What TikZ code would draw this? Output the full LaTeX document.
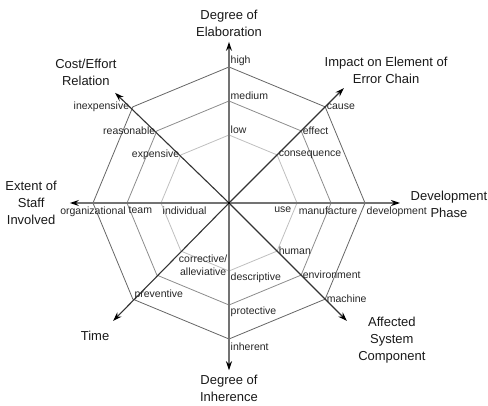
\documentclass[tikz,border=0pt]{standalone}
\usepackage{fontspec}
\setmainfont{Liberation Sans}
\usetikzlibrary{arrows.meta}
\pgfdeclarelayer{nodelayer}
\pgfdeclarelayer{edgelayer}
\pgfsetlayers{edgelayer,nodelayer,main}
\tikzstyle{ring inner}=[draw=black!25, line width=0.8pt]
\tikzstyle{ring middle}=[draw=black!45, line width=0.8pt]
\tikzstyle{ring outer}=[draw=black!60, line width=0.8pt]
\tikzstyle{straight axis}=[-{Stealth[length=9pt, width=6pt, color=black]}, draw=black!55, line width=1.4pt]
\tikzstyle{slant axis}=[-{Stealth[length=9pt, width=6pt, color=black]}, draw=black!80, line width=1.1pt]
\tikzstyle{value}=[inner sep=1.5pt, font=\fontsize{10.5}{13}\selectfont, text=black!85, align=center]
\tikzstyle{dimension}=[inner sep=0pt, font=\fontsize{13}{17}\selectfont, text=black!90, align=center]
\tikzstyle{hub}=[fill=black, inner sep=1.2pt, shape=rectangle]

\begin{document}
\begin{tikzpicture}[x=34pt, y=34pt]
	\useasboundingbox (-229pt, -203pt) rectangle (259pt, 203pt);
	\begin{pgfonlayer}{nodelayer}
		\node [style=hub] (0) at (0, 0) {};
		\coordinate (10) at (0, 2);
		\coordinate (11) at (1.414, 1.414);
		\coordinate (12) at (2, 0);
		\coordinate (13) at (1.414, -1.414);
		\coordinate (14) at (0, -2);
		\coordinate (15) at (-1.414, -1.414);
		\coordinate (16) at (-2, 0);
		\coordinate (17) at (-1.414, 1.414);
		\coordinate (20) at (0, 3);
		\coordinate (21) at (2.121, 2.121);
		\coordinate (22) at (3, 0);
		\coordinate (23) at (2.121, -2.121);
		\coordinate (24) at (0, -3);
		\coordinate (25) at (-2.121, -2.121);
		\coordinate (26) at (-3, 0);
		\coordinate (27) at (-2.121, 2.121);
		\coordinate (30) at (0, 4);
		\coordinate (31) at (2.828, 2.828);
		\coordinate (32) at (4, 0);
		\coordinate (33) at (2.828, -2.828);
		\coordinate (34) at (0, -4);
		\coordinate (35) at (-2.828, -2.828);
		\coordinate (36) at (-4, 0);
		\coordinate (37) at (-2.828, 2.828);
		\coordinate (40) at (0, 4.74);
		\coordinate (41) at (3.38, 3.38);
		\coordinate (42) at (5.03, 0);
		\coordinate (43) at (3.47, -3.47);
		\coordinate (44) at (0, -4.92);
		\coordinate (45) at (-3.41, -3.47);
		\coordinate (46) at (-4.68, 0);
		\coordinate (47) at (-3.35, 3.24);
		\node [style=dimension] (50) at (0, 5.27) {Degree of\\Elaboration};
		\node [style=dimension] (51) at (4.62, 3.91) {Impact on Element of\\Error Chain};
		\node [style=dimension] (52) at (6.47, -0.04) {Development\\Phase};
		\node [style=dimension] (53) at (4.79, -4.03) {Affected\\System\\Component};
		\node [style=dimension] (54) at (0, -5.46) {Degree of\\Inherence};
		\node [style=dimension] (55) at (-3.94, -3.91) {Time};
		\node [style=dimension] (56) at (-5.82, 0) {Extent of\\Staff\\Involved};
		\node [style=dimension] (57) at (-4.21, 3.85) {Cost/Effort\\Relation};
		\node [style=value, anchor=south west] (60) at (10) {low};
		\node [style=value, anchor=south west] (61) at (20) {medium};
		\node [style=value, anchor=south west] (62) at (30) {high};
		\node [style=value, anchor=west] (63) at (11) {consequence};
		\node [style=value, anchor=west] (64) at (21) {effect};
		\node [style=value, anchor=west] (65) at (31) {cause};
		\node [style=value, anchor=north east, xshift=-4pt, yshift=-2pt] (66) at (12) {use};
		\node [style=value, anchor=north, xshift=-3pt, yshift=-2pt] (67) at (22) {manufacture};
		\node [style=value, anchor=north west, yshift=-2pt] (68) at (32) {development};
		\node [style=value, anchor=west] (69) at (13) {human};
		\node [style=value, anchor=west] (70) at (23) {environment};
		\node [style=value, anchor=west] (71) at (33) {machine};
		\node [style=value, anchor=north west] (72) at (14) {descriptive};
		\node [style=value, anchor=north west] (73) at (24) {protective};
		\node [style=value, anchor=north west, yshift=-2pt] (74) at (34) {inherent};
		\node [style=value] (75) at (-0.76, -1.82) {corrective/\\alleviative};
		\node [style=value, anchor=west, yshift=4pt] (76) at (35) {preventive};
		\node [style=value, anchor=north west, yshift=-2pt] (77) at (16) {individual};
		\node [style=value, anchor=north west, yshift=-2pt] (78) at (26) {team};
		\node [style=value, anchor=north, yshift=-2pt] (79) at (36) {organizational};
		\node [style=value, anchor=east] (80) at (17) {expensive};
		\node [style=value, anchor=east] (81) at (27) {reasonable};
		\node [style=value, anchor=east, xshift=-2pt] (82) at (37) {inexpensive};
	\end{pgfonlayer}
	\begin{pgfonlayer}{edgelayer}
		\draw [style=ring inner] (10) -- (11) -- (12) -- (13) -- (14) -- (15) -- (16) -- (17) -- cycle;
		\draw [style=ring middle] (20) -- (21) -- (22) -- (23) -- (24) -- (25) -- (26) -- (27) -- cycle;
		\draw [style=ring outer] (30) -- (31) -- (32) -- (33) -- (34) -- (35) -- (36) -- (37) -- cycle;
		\draw [style=straight axis] (0.center) to (40);
		\draw [style=slant axis] (0.center) to (41);
		\draw [style=straight axis] (0.center) to (42);
		\draw [style=slant axis] (0.center) to (43);
		\draw [style=straight axis] (0.center) to (44);
		\draw [style=slant axis] (0.center) to (45);
		\draw [style=straight axis] (0.center) to (46);
		\draw [style=slant axis] (0.center) to (47);
	\end{pgfonlayer}
\end{tikzpicture}
\end{document}
